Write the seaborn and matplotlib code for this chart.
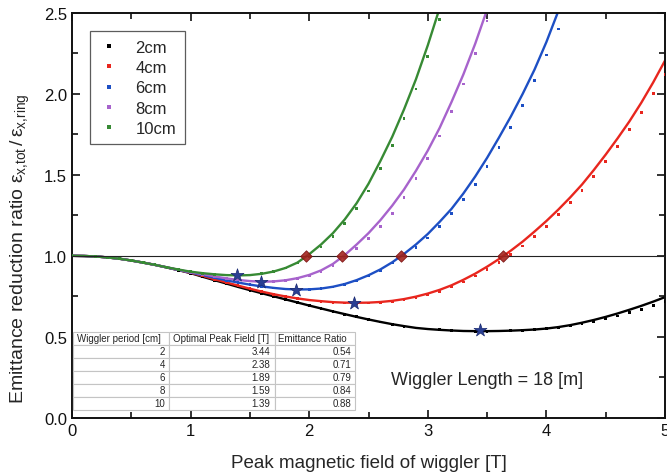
import numpy as np
import pandas as pd
import matplotlib
matplotlib.use("Agg")
import matplotlib.pyplot as plt
import seaborn as sns
from matplotlib.ticker import MultipleLocator

# ---- data -------------------------------------------------------------
periods = ["2cm", "4cm", "6cm", "8cm", "10cm"]
palette = ["#000000", "#e8261e", "#1d4fc4", "#a763cc", "#378a34"]

field_step = 0.1  # field samples start at 0 T, every 0.1 T

# fitted emittance ratio curves
fit_2cm = [1.000, 0.999, 0.996, 0.990, 0.982, 0.971, 0.958, 0.944, 0.928, 0.911,
           0.893, 0.871, 0.850, 0.829, 0.808, 0.788, 0.769, 0.750, 0.731, 0.712,
           0.693, 0.675, 0.657, 0.640, 0.623, 0.607, 0.592, 0.578, 0.566, 0.555,
           0.548, 0.543, 0.539, 0.536, 0.535, 0.535, 0.536, 0.538, 0.541, 0.545,
           0.551, 0.560, 0.572, 0.587, 0.604, 0.623, 0.644, 0.667, 0.691, 0.717, 0.745]
fit_4cm = [1.000, 0.999, 0.996, 0.990, 0.982, 0.971, 0.958, 0.944, 0.928, 0.912,
           0.895, 0.876, 0.856, 0.836, 0.816, 0.797, 0.779, 0.763, 0.749, 0.737,
           0.727, 0.720, 0.714, 0.711, 0.710, 0.711, 0.715, 0.722, 0.733, 0.748,
           0.767, 0.790, 0.818, 0.852, 0.890, 0.933, 0.980, 1.032, 1.088, 1.150,
           1.215, 1.285, 1.360, 1.440, 1.530, 1.625, 1.725, 1.830, 1.945, 2.070, 2.205]
fit_6cm = [1.000, 0.999, 0.996, 0.990, 0.982, 0.971, 0.958, 0.944, 0.928, 0.912,
           0.897, 0.881, 0.865, 0.849, 0.835, 0.822, 0.811, 0.802, 0.795, 0.792,
           0.793, 0.798, 0.809, 0.826, 0.850, 0.880, 0.916, 0.960, 1.012, 1.070,
           1.135, 1.210, 1.290, 1.385, 1.490, 1.605, 1.730, 1.860, 2.000, 2.150,
           2.320, 2.510]
fit_8cm = [1.000, 0.999, 0.996, 0.990, 0.982, 0.971, 0.958, 0.944, 0.929, 0.913,
           0.899, 0.887, 0.873, 0.861, 0.851, 0.844, 0.840, 0.842, 0.849, 0.862,
           0.882, 0.910, 0.950, 1.005, 1.070, 1.140, 1.220, 1.310, 1.410, 1.525,
           1.650, 1.790, 1.950, 2.120, 2.310, 2.520]
fit_10cm = [1.000, 0.999, 0.996, 0.990, 0.982, 0.971, 0.958, 0.944, 0.929, 0.915,
            0.902, 0.893, 0.886, 0.881, 0.879, 0.881, 0.889, 0.903, 0.925, 0.958,
            1.010, 1.070, 1.140, 1.225, 1.325, 1.445, 1.585, 1.735, 1.905, 2.090,
            2.300, 2.530]

# simulated emittance ratio points
sim_2cm = [1.000, 0.999, 0.996, 0.990, 0.982, 0.971, 0.958, 0.944, 0.928, 0.911,
           0.893, 0.871, 0.850, 0.829, 0.808, 0.788, 0.769, 0.750, 0.731, 0.712,
           0.693, 0.675, 0.657, 0.640, 0.623, 0.607, 0.592, 0.578, 0.566, 0.555,
           0.548, 0.543, 0.539, 0.536, 0.535, 0.535, 0.536, 0.538, 0.541, 0.545,
           0.549, 0.557, 0.567, 0.579, 0.594, 0.611, 0.629, 0.649, 0.670, 0.692, 0.716]
sim_4cm = [1.000, 0.999, 0.996, 0.990, 0.982, 0.971, 0.958, 0.944, 0.928, 0.912,
           0.895, 0.876, 0.856, 0.836, 0.816, 0.797, 0.779, 0.763, 0.749, 0.737,
           0.727, 0.720, 0.714, 0.709, 0.708, 0.709, 0.712, 0.718, 0.728, 0.743,
           0.760, 0.780, 0.807, 0.838, 0.875, 0.914, 0.961, 1.006, 1.060, 1.120,
           1.180, 1.253, 1.327, 1.405, 1.490, 1.580, 1.677, 1.780, 1.887, 2.000, 2.120]
sim_6cm = [1.000, 0.999, 0.996, 0.990, 0.982, 0.971, 0.958, 0.944, 0.928, 0.912,
           0.897, 0.881, 0.865, 0.849, 0.835, 0.822, 0.811, 0.802, 0.795, 0.792,
           0.793, 0.796, 0.807, 0.823, 0.844, 0.875, 0.910, 0.955, 1.000, 1.050,
           1.110, 1.180, 1.260, 1.350, 1.440, 1.550, 1.670, 1.790, 1.930, 2.080,
           2.240, 2.400]
sim_8cm = [1.000, 0.999, 0.996, 0.990, 0.982, 0.971, 0.958, 0.944, 0.929, 0.913,
           0.899, 0.887, 0.873, 0.861, 0.851, 0.844, 0.840, 0.842, 0.849, 0.862,
           0.880, 0.905, 0.940, 0.990, 1.043, 1.105, 1.180, 1.260, 1.360, 1.475,
           1.600, 1.740, 1.890, 2.060, 2.250, 2.450]
sim_10cm = [1.000, 0.999, 0.996, 0.990, 0.982, 0.971, 0.958, 0.944, 0.929, 0.915,
            0.902, 0.893, 0.886, 0.881, 0.879, 0.881, 0.889, 0.903, 0.925, 0.955,
            0.995, 1.054, 1.120, 1.200, 1.290, 1.400, 1.540, 1.680, 1.850, 2.030,
            2.230, 2.460]

# optimum per period (also listed in the table)
period_cm = [2, 4, 6, 8, 10]
optimal_field = [3.44, 2.38, 1.89, 1.59, 1.39]
optimal_ratio = [0.54, 0.71, 0.79, 0.84, 0.88]

# field where the ratio climbs back to 1 (4, 6, 8, 10 cm)
crossing_field = [3.63, 2.77, 2.28, 1.97]
crossing_ratio = [1.0, 1.0, 1.0, 1.0]

fits = [fit_2cm, fit_4cm, fit_6cm, fit_8cm, fit_10cm]
sims = [sim_2cm, sim_4cm, sim_6cm, sim_8cm, sim_10cm]


def long_frame(series):
    rows = []
    for name, vals in zip(periods, series):
        b = np.round(np.arange(len(vals)) * field_step, 2)
        rows.append(pd.DataFrame({"field": b, "ratio": vals, "period": name}))
    return pd.concat(rows, ignore_index=True)


fit_df = long_frame(fits)
sim_df = long_frame(sims)

# ---- figure -----------------------------------------------------------
sns.set_theme(style="ticks")
plt.rcParams["font.family"] = ["Liberation Sans", "DejaVu Sans"]
plt.rcParams["mathtext.fontset"] = "custom"
plt.rcParams["mathtext.rm"] = "Liberation Sans"
plt.rcParams["mathtext.it"] = "Liberation Sans:italic"

fig = plt.figure(figsize=(6.67, 4.77), dpi=100)
ax = fig.add_axes([0.108, 0.122, 0.889, 0.849])

sns.lineplot(data=fit_df, x="field", y="ratio", hue="period", hue_order=periods,
             palette=palette, linewidth=1.7, legend=False, ax=ax, zorder=2,
             sort=False, estimator=None)
sns.scatterplot(data=sim_df, x="field", y="ratio", hue="period", hue_order=periods,
                palette=palette, marker="s", s=4, linewidth=0, ax=ax, zorder=3)

ax.axhline(1.0, color="#222222", linewidth=0.8, zorder=4)

ax.scatter(crossing_field, crossing_ratio, marker="D", s=34, color="#a3241e",
           edgecolor="#7a1010", linewidth=0.6, alpha=0.9, zorder=5)
ax.scatter(optimal_field, optimal_ratio, marker="*", s=95, color="#2a3f93",
           edgecolor="#1a2a70", linewidth=0.5, zorder=6)

ax.set_xlim(0, 5)
ax.set_ylim(0, 2.5)
ax.xaxis.set_major_locator(MultipleLocator(1))
ax.xaxis.set_minor_locator(MultipleLocator(0.5))
ax.yaxis.set_major_locator(MultipleLocator(0.5))
ax.yaxis.set_minor_locator(MultipleLocator(0.25))
ax.tick_params(which="both", direction="in", top=True, right=True,
               labelsize=12, colors="#111111", width=1.2)
ax.tick_params(which="major", length=6)
ax.tick_params(which="minor", length=4)
for sp in ax.spines.values():
    sp.set_visible(True)
    sp.set_linewidth(1.4)
    sp.set_color("#111111")

ax.set_xlabel("Peak magnetic field of wiggler [T]", fontsize=13.5, labelpad=12)
ax.set_ylabel(r"Emittance reduction ratio $\mathrm{ε}_{\text{x,tot}}\,/\,\mathrm{ε}_{\text{x,ring}}$",
              fontsize=14)
ax.yaxis.set_label_coords(-0.068, 0.42)

leg = ax.legend(loc="upper left", bbox_to_anchor=(0.031, 0.954),
                borderaxespad=0, fontsize=12, frameon=True, fancybox=False,
                markerscale=1.3, handletextpad=1.0, labelspacing=0.32,
                borderpad=0.5, handlelength=1.2)
leg.get_frame().set_edgecolor("#333333")
leg.get_frame().set_linewidth(0.9)

ax.text(0.70, 0.094, "Wiggler Length = 18 [m]", transform=ax.transAxes,
        ha="center", va="center", fontsize=13)

# summary table
cell_text = [[str(p), f"{f:.2f}", f"{r:.2f}"]
             for p, f, r in zip(period_cm, optimal_field, optimal_ratio)]
tbl = ax.table(cellText=cell_text,
               colLabels=["Wiggler period [cm]", "Optimal Peak Field [T]", "Emittance Ratio"],
               colWidths=[0.341, 0.374, 0.285], cellLoc="right",
               bbox=[0.002, 0.02, 0.475, 0.193], zorder=7)
tbl.auto_set_font_size(False)
tbl.set_fontsize(7)
for (r, c), cell in tbl.get_celld().items():
    cell.set_edgecolor("#c4c4c4")
    cell.set_linewidth(0.8)
    cell.set_facecolor("white")
    cell.PAD = 0.04
    if r == 0:
        cell.get_text().set_ha("left")

fig.savefig("out.png", dpi=100)
